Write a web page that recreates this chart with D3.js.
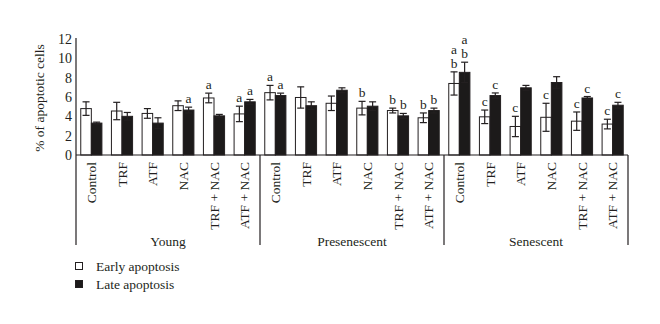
<!DOCTYPE html>
<html><head><meta charset="utf-8">
<script src="https://cdn.jsdelivr.net/npm/d3@7"></script>
<style>body{margin:0;background:#fff}svg{display:block}text{font-family:"Liberation Serif","Times New Roman",serif;fill:#231f20}</style>
</head><body><svg id="c" width="660" height="324"></svg>
<script>
const groups = ["Young","Presenescent","Senescent"];
const treatments = ["Control","TRF","ATF","NAC","TRF + NAC","ATF + NAC"];
const series = ["Early apoptosis","Late apoptosis"];
const earlyVals = [4.8,4.55,4.3,5.1,5.9,4.25, 6.45,5.95,5.35,4.85,4.6,3.85, 7.4,3.95,2.95,3.9,3.5,3.2];
const earlyErr  = [0.7,0.9,0.5,0.5,0.5,0.8, 0.75,1.1,0.75,0.7,0.25,0.5, 1.2,0.7,1.05,1.45,0.95,0.5];
const lateVals  = [3.3,4.0,3.3,4.65,4.05,5.5, 6.15,5.1,6.7,5.05,4.05,4.6, 8.55,6.15,6.95,7.5,5.9,5.15];
const lateErr   = [0.1,0.4,0.55,0.3,0.15,0.25, 0.25,0.4,0.25,0.45,0.25,0.25, 1.05,0.27,0.25,0.6,0.15,0.3];
const earlyLabels = ["","","","","a","a", "a","","","b","b","b", "a\nb","c","c","c","c","c"];
const lateLabels  = ["","","","a","","a", "a","","","","b","b", "a\nb","c","","","c","c"];
const yTicks = [0,2,4,6,8,10,12];

(function(){
const svg = d3.select("#c");
const mLeft = 76, mRight = 628, mTop = 39, mBottom = 155, axisBottom = 245;
const fs = "13.5px";
const cats = [];
groups.forEach(g => treatments.forEach(t => cats.push(g + "|" + t)));
const rows = cats.map((c,i)=>({key:c, treat:c.split("|")[1], group:c.split("|")[0],
  vals:[{s:series[0],v:earlyVals[i],e:earlyErr[i],l:earlyLabels[i]},{s:series[1],v:lateVals[i],e:lateErr[i],l:lateLabels[i]}]}));

const x0 = d3.scaleBand().domain(cats).range([mLeft,mRight]).padding(0);
const x1 = d3.scaleBand().domain(series).range([0,x0.bandwidth()]).paddingInner(0).paddingOuter(0.45);
const y = d3.scaleLinear().domain([0,12]).range([mBottom,mTop]);
const color = d3.scaleOrdinal().domain(series).range(["#ffffff","#1c1a1a"]);

const ya = svg.append("g").attr("transform",`translate(${mLeft},0)`)
  .call(d3.axisLeft(y).tickValues(yTicks).tickSize(0).tickPadding(4));
ya.select(".domain").remove();
ya.selectAll("text").style("font-size","14px").style("font-family","Liberation Serif").attr("fill","#231f20");
svg.append("line").attr("x1",mLeft).attr("x2",mLeft).attr("y1",mTop-1).attr("y2",axisBottom).attr("stroke","#231f20").attr("stroke-width",1.2);
svg.append("text").attr("transform",`translate(44,${(mTop+mBottom)/2+1}) rotate(-90)`).attr("text-anchor","middle")
  .style("font-size",fs).text("% of apoptotic cells");

const cg = svg.selectAll(".cat").data(rows).join("g").attr("class","cat").attr("transform",d=>`translate(${x0(d.key)},0)`);
cg.selectAll("rect").data(d=>d.vals).join("rect")
  .attr("x",d=>x1(d.s)).attr("width",x1.bandwidth()).attr("y",d=>y(d.v)).attr("height",d=>y(0)-y(d.v))
  .attr("fill",d=>color(d.s)).attr("stroke","#231f20").attr("stroke-width",1);
const cap = 3.5;
cg.selectAll("g.err").data(d=>d.vals).join("g").attr("class","err").each(function(d){
  const g = d3.select(this), cx = x1(d.s)+x1.bandwidth()/2;
  const st = "#231f20";
  g.append("line").attr("x1",cx).attr("x2",cx).attr("y1",y(d.v+d.e)).attr("y2",y(d.v-d.e)).attr("stroke",st).attr("stroke-width",1.2);
  g.append("line").attr("x1",cx-cap).attr("x2",cx+cap).attr("y1",y(d.v+d.e)).attr("y2",y(d.v+d.e)).attr("stroke",st).attr("stroke-width",1.2);
  g.append("line").attr("x1",cx-cap).attr("x2",cx+cap).attr("y1",y(d.v-d.e)).attr("y2",y(d.v-d.e)).attr("stroke",st).attr("stroke-width",1.2);
  if(d.l){
    const parts = d.l.split("\n");
    const lh = 14;
    const base = y(d.v+d.e)-4 - (parts.length-1)*lh;
    const t = g.append("text").attr("x",cx).attr("y",base).attr("text-anchor","middle").style("font-size",fs);
    parts.forEach((p,i)=>{
      t.append("tspan").attr("x",cx).attr("dy", i===0 ? 0 : lh).text(p);
    });
  }
});

svg.append("line").attr("x1",mLeft).attr("x2",mRight).attr("y1",mBottom).attr("y2",mBottom).attr("stroke","#231f20").attr("stroke-width",1.2);
groups.forEach((g)=>{
  const xEnd = x0(g+"|"+treatments[treatments.length-1]) + x0.bandwidth();
  svg.append("line").attr("x1",xEnd).attr("x2",xEnd).attr("y1",mBottom).attr("y2",axisBottom).attr("stroke","#231f20").attr("stroke-width",1.2);
  const xs = x0(g+"|"+treatments[0]);
  svg.append("text").attr("x",(xs+xEnd)/2).attr("y",246).attr("text-anchor","middle").style("font-size",fs).text(g);
});
svg.selectAll(".clab").data(rows).join("text").attr("class","clab")
  .attr("transform",d=>`translate(${x0(d.key)+x0.bandwidth()/2+4.5},${mBottom+7}) rotate(-90)`)
  .attr("text-anchor","end").style("font-size",fs).text(d=>d.treat);

const lg = svg.append("g").attr("transform","translate(75,262)");
series.forEach((s,i)=>{
  lg.append("rect").attr("x",0.5).attr("y",i*18+0.5).attr("width",7).attr("height",7).attr("fill",color(s)).attr("stroke","#231f20");
  lg.append("text").attr("x",21).attr("y",i*18+8.5).style("font-size",fs).text(s);
});
})();
</script></body></html>
